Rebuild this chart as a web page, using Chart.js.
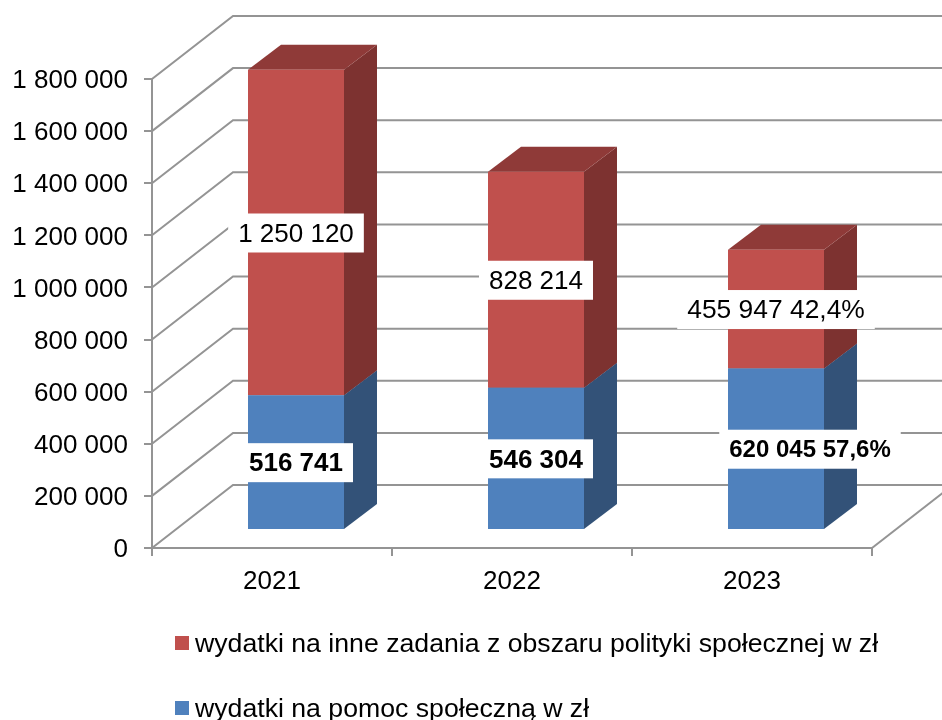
<!DOCTYPE html>
<html>
<head>
<meta charset="utf-8">
<title>Wydatki</title>
<script src="https://cdn.jsdelivr.net/npm/chart.js@4"></script>
<style>
  html, body { margin: 0; padding: 0; background: #fff; overflow: hidden; }
  #chart { display: block; }
</style>
</head>
<body>
<div style="width:942px;height:720px;position:relative"><canvas id="chart"></canvas></div>
<script>
const years = ["2021", "2022", "2023"];
const pomocValues = [516741, 546304, 620045];
const inneValues = [1250120, 828214, 455947];
const pomocLabels = ["516 741", "546 304", "620 045 57,6%"];
const inneLabels = ["1 250 120", "828 214", "455 947 42,4%"];
const yTickLabels = ["0", "200 000", "400 000", "600 000", "800 000", "1 000 000", "1 200 000", "1 400 000", "1 600 000", "1 800 000"];
const pomocName = "wydatki na pomoc społeczną w zł";
const inneName = "wydatki na inne zadania z obszaru polityki społecznej w zł";

const FONT = '"Liberation Sans", Arial, sans-serif';
const GRID = "#949494";

// fake 3D depth, in pixels
const wallDx = 81, wallDy = -63;
const barDx = 24, barDy = -18;
const faceDx = 33, faceDy = -25;

function poly(ctx, pts, color) {
  ctx.fillStyle = color;
  ctx.beginPath();
  pts.forEach((p, i) => (i ? ctx.lineTo(p[0], p[1]) : ctx.moveTo(p[0], p[1])));
  ctx.closePath();
  ctx.fill();
}

const walls = {
  id: "walls",
  beforeDatasetsDraw(chart) {
    const { ctx, scales } = chart;
    const left = scales.x.left, right = scales.x.right;
    ctx.save();
    ctx.strokeStyle = GRID;
    ctx.lineWidth = 2;
    scales.y.ticks.forEach((t) => {
      const y = scales.y.getPixelForValue(t.value);
      ctx.beginPath();
      ctx.moveTo(left, y);
      ctx.lineTo(left + wallDx, y + wallDy);
      ctx.lineTo(right + wallDx, y + wallDy);
      ctx.stroke();
    });
    const bottom = scales.y.getPixelForValue(0);
    ctx.beginPath();
    ctx.moveTo(right, bottom);
    ctx.lineTo(right + wallDx, bottom + wallDy);
    ctx.stroke();
    ctx.restore();
  },
};

const faces = {
  id: "faces",
  beforeDatasetsDraw(chart) {
    const { ctx } = chart;
    chart.data.datasets.forEach((ds, i) => {
      chart.getDatasetMeta(i).data.forEach((bar) => {
        const x2 = bar.x + bar.width / 2 + barDx;
        const x1 = bar.x - bar.width / 2 + barDx;
        const top = bar.y + barDy;
        const base = bar.base + barDy;
        poly(ctx, [[x2, top], [x2 + faceDx, top + faceDy], [x2 + faceDx, base + faceDy], [x2, base]], ds.sideColor);
        poly(ctx, [[x1, top], [x1 + faceDx, top + faceDy], [x2 + faceDx, top + faceDy], [x2, top]], ds.topColor);
      });
    });
  },
  beforeDatasetDraw(chart) {
    chart.ctx.save();
    chart.ctx.translate(barDx, barDy);
  },
  afterDatasetDraw(chart) {
    chart.ctx.restore();
  },
};

const barLabels = {
  id: "barLabels",
  afterDatasetsDraw(chart) {
    const { ctx } = chart;
    ctx.save();
    ctx.textAlign = "center";
    ctx.textBaseline = "middle";
    chart.data.datasets.forEach((ds, i) => {
      chart.getDatasetMeta(i).data.forEach((bar, j) => {
        const text = ds.valueLabels[j];
        const x = bar.x + barDx + (ds.labelShift ? ds.labelShift[j] : 0);
        const y = (bar.y + bar.base) / 2 + barDy;
        ctx.font = ds.labelFont[j];
        const w = ctx.measureText(text).width + 20;
        ctx.fillStyle = "#fff";
        ctx.fillRect(x - w / 2, y - 19, w, 39);
        ctx.fillStyle = "#000";
        ctx.fillText(text, x, y + 2);
      });
    });
    ctx.restore();
  },
};

const legendBlock = {
  id: "legendBlock",
  afterDraw(chart) {
    const { ctx } = chart;
    ctx.save();
    ctx.font = "26.67px " + FONT;
    ctx.textBaseline = "middle";
    [[1, 643], [0, 708]].forEach(([i, y]) => {
      const ds = chart.data.datasets[i];
      ctx.fillStyle = ds.backgroundColor;
      ctx.fillRect(175, y - 7, 14, 14);
      ctx.fillStyle = "#000";
      ctx.fillText(ds.label, 195, y + 2);
    });
    ctx.restore();
  },
};

new Chart(document.getElementById("chart"), {
  type: "bar",
  data: {
    labels: years,
    datasets: [
      {
        label: pomocName,
        data: pomocValues,
        backgroundColor: "#4F81BD",
        sideColor: "#335278",
        topColor: "#3A5F8C",
        valueLabels: pomocLabels,
        labelShift: [0, 0, 34],
        labelFont: ["bold 26px " + FONT, "bold 26px " + FONT, "bold 24px " + FONT],
      },
      {
        label: inneName,
        data: inneValues,
        backgroundColor: "#C0504D",
        sideColor: "#7D3230",
        topColor: "#8F3A38",
        valueLabels: inneLabels,
        labelFont: ["26px " + FONT, "26px " + FONT, "26.4px " + FONT],
      },
    ],
  },
  options: {
    responsive: true,
    maintainAspectRatio: false,
    animation: false,
    barPercentage: 0.4,
    categoryPercentage: 1,
    layout: { padding: { top: 79, right: 70, left: 0, bottom: 0 } },
    plugins: { legend: { display: false }, tooltip: { enabled: false } },
    scales: {
      x: {
        stacked: true,
        border: { color: GRID, width: 2 },
        grid: { drawOnChartArea: false, color: GRID, lineWidth: 2, tickLength: 8 },
        ticks: { color: "#000", font: { family: FONT, size: 26 }, padding: 10, maxRotation: 0 },
        afterFit(scale) { scale.height = 172; },
      },
      y: {
        stacked: true,
        min: 0,
        max: 1800000,
        border: { color: GRID, width: 2 },
        grid: { drawOnChartArea: false, color: GRID, lineWidth: 2, tickLength: 8 },
        ticks: {
          stepSize: 200000,
          color: "#000",
          font: { family: FONT, size: 26 },
          padding: 16,
          labelOffset: 2,
          callback: (value, index) => yTickLabels[index],
        },
        afterFit(scale) { scale.width = 152; },
      },
    },
  },
  plugins: [walls, faces, barLabels, legendBlock],
});
</script>
</body>
</html>
